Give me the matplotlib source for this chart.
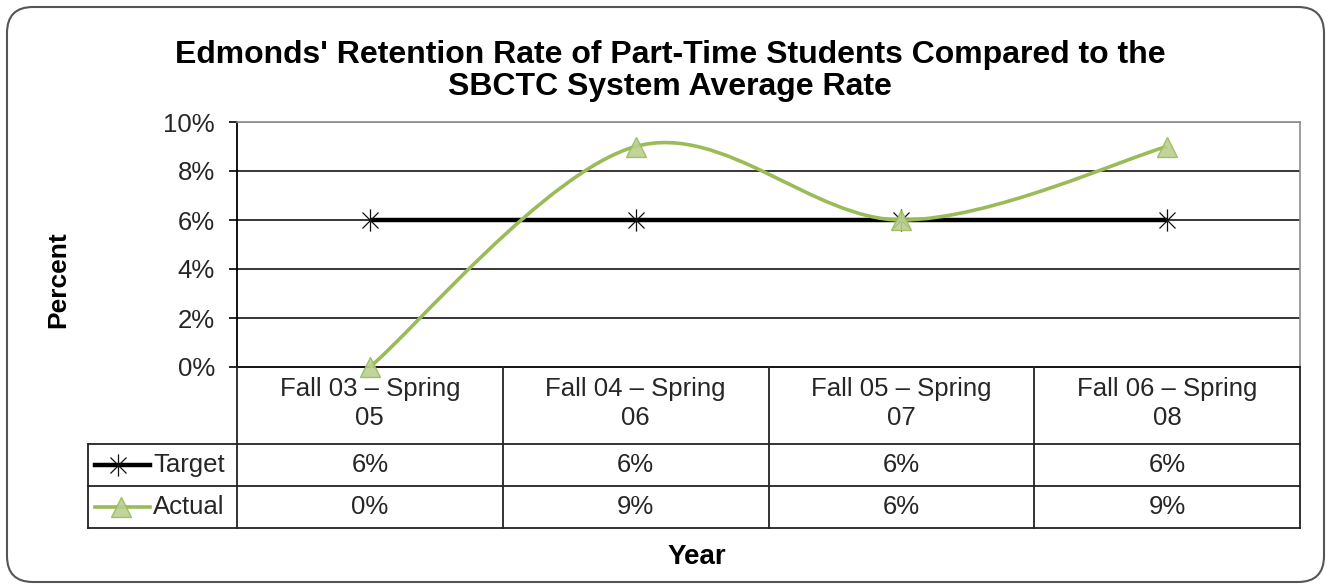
import matplotlib
matplotlib.use("Agg")
import matplotlib.pyplot as plt
from matplotlib.path import Path
from matplotlib.patches import PathPatch, FancyBboxPatch
from matplotlib.lines import Line2D
import matplotlib.transforms as mtransforms

plt.rcParams['font.family'] = ['Liberation Sans', 'DejaVu Sans']

# ---- data ----
categories = ["Fall 03 – Spring\n05", "Fall 04 – Spring\n06", "Fall 05 – Spring\n07", "Fall 06 – Spring\n08"]
target = [0.06, 0.06, 0.06, 0.06]
actual = [0.00, 0.09, 0.06, 0.09]
target_labels = ["6%", "6%", "6%", "6%"]
actual_labels = ["0%", "9%", "6%", "9%"]
yticks = [0.0, 0.02, 0.04, 0.06, 0.08, 0.10]
ytick_labels = ["0%", "2%", "4%", "6%", "8%", "10%"]
title = "Edmonds' Retention Rate of Part-Time Students Compared to the\nSBCTC System Average Rate"

W, H = 1327, 586
fig = plt.figure(figsize=(W / 100, H / 100), dpi=100)

def fy(py):
    return 1 - py / H

def fx(px):
    return px / W

# asterisk marker: vertical bar + X
AST = Path([(0, -1), (0, 1), (-0.72, -0.72), (0.72, 0.72), (-0.72, 0.72), (0.72, -0.72)],
           [Path.MOVETO, Path.LINETO, Path.MOVETO, Path.LINETO, Path.MOVETO, Path.LINETO])

FS = 18.5
TXT = '#262626'

# plot area in pixels
L, R, T, B = 237, 1300, 122, 367
ax = fig.add_axes([fx(L), fy(B), fx(R) - fx(L), fy(T) - fy(B)])
ax.set_xlim(-0.5, len(categories) - 0.5)
ax.set_ylim(0, 0.10)

GREEN = '#9bbb59'
TRI_FACE = '#b9d091'

# gridlines
for v in yticks[1:-1]:
    ax.axhline(v, color='black', lw=1.1, zorder=1)
ax.axhline(yticks[-1], color='#8c8c8c', lw=1.2, zorder=1)

for s in ['top', 'right']:
    ax.spines[s].set_color('#8c8c8c')
    ax.spines[s].set_linewidth(1.2)
ax.spines['left'].set_color('black')
ax.spines['left'].set_linewidth(1.3)
ax.spines['bottom'].set_color('black')
ax.spines['bottom'].set_linewidth(1.3)

ax.set_yticks(yticks)
ax.set_yticklabels(ytick_labels)
ax.tick_params(axis='y', direction='out', length=6, width=1.2, pad=10, labelsize=FS,
               labelcolor=TXT)
ax.set_xticks([])

xs = list(range(len(categories)))

# target line
ax.plot(xs, target, color='black', lw=3.2, zorder=3, solid_capstyle='butt')
ax.plot(xs, target, linestyle='none', marker=AST, markersize=16,
        markeredgecolor='#111111', markeredgewidth=0.9, zorder=4)

# smoothed actual line (Excel-style Bezier smoothing)
pts = list(zip(xs, actual))
n = len(pts)
verts = [pts[0]]
codes = [Path.MOVETO]
for i in range(n - 1):
    p0 = pts[i - 1] if i > 0 else pts[i]
    p1 = pts[i]
    p2 = pts[i + 1]
    p3 = pts[i + 2] if i + 2 < n else pts[i + 1]
    c1 = (p1[0] + (p2[0] - p0[0]) / 6, p1[1] + (p2[1] - p0[1]) / 6)
    c2 = (p2[0] - (p3[0] - p1[0]) / 6, p2[1] - (p3[1] - p1[1]) / 6)
    verts += [c1, c2, p2]
    codes += [Path.CURVE4] * 3
ax.add_patch(PathPatch(Path(verts, codes), facecolor='none', edgecolor=GREEN, lw=2.6, zorder=5,
                       clip_on=False))
ax.plot(xs, actual, linestyle='none', marker='^', markersize=15, markerfacecolor=TRI_FACE,
        markeredgecolor=GREEN, markeredgewidth=1.0, alpha=0.9, zorder=6, clip_on=False)

# ---- data table ----
blend = mtransforms.blended_transform_factory(ax.transData, fig.transFigure)
row_cat_bot, row_t_bot, row_a_bot = 444, 486, 528
left_col = 88
lc = '#222222'
for b in [x - 0.5 for x in range(len(categories) + 1)]:
    fig.add_artist(Line2D([b, b], [fy(B), fy(row_a_bot)], transform=blend, color=lc, lw=1.3))
for yy in [row_cat_bot, row_t_bot, row_a_bot]:
    fig.add_artist(Line2D([fx(left_col), fx(R)], [fy(yy), fy(yy)], color=lc, lw=1.3))
fig.add_artist(Line2D([fx(left_col), fx(left_col)], [fy(row_cat_bot), fy(row_a_bot)], color=lc, lw=1.3))

for i, c in enumerate(categories):
    fig.text(0, 0, c, transform=blend, fontsize=FS, color=TXT, ha='center', va='center',
             linespacing=1.25).set_position((i, fy((B + row_cat_bot) / 2 - 2)))
    fig.text(0, 0, target_labels[i], transform=blend, fontsize=FS, color=TXT,
             ha='center', va='center').set_position((i, fy((row_cat_bot + row_t_bot) / 2)))
    fig.text(0, 0, actual_labels[i], transform=blend, fontsize=FS, color=TXT,
             ha='center', va='center').set_position((i, fy((row_t_bot + row_a_bot) / 2)))

# legend keys in table
yt = fy((row_cat_bot + row_t_bot) / 2)
ya = fy((row_t_bot + row_a_bot) / 2)
fig.add_artist(Line2D([fx(95), fx(150)], [yt, yt], color='black', lw=3.2))
fig.add_artist(Line2D([fx(118)], [yt], linestyle='none', marker=AST, markersize=16,
                      markeredgecolor='#111111', markeredgewidth=0.9))
fig.add_artist(Line2D([fx(95), fx(150)], [ya, ya], color=GREEN, lw=2.6))
fig.add_artist(Line2D([fx(121)], [ya], linestyle='none', marker='^', markersize=15,
                      markerfacecolor=TRI_FACE, markeredgecolor=GREEN, markeredgewidth=1.0, alpha=0.9))
fig.text(fx(153), yt, "Target", fontsize=FS, color=TXT, ha='left', va='center')
fig.text(fx(153), ya, "Actual", fontsize=FS, color=TXT, ha='left', va='center')

# titles
fig.text(fx(670), fy(71), title, fontsize=23, fontweight='bold', ha='center', va='center',
         linespacing=1.1)
fig.text(fx(58), fy(280), "Percent", fontsize=19, fontweight='bold', rotation=90,
         ha='center', va='center')
fig.text(fx(697), fy(557), "Year", fontsize=20, fontweight='bold', ha='center', va='center')

# outer rounded border (pixel coordinates)
fig.add_artist(FancyBboxPatch((7, H - 582), 1317, 575,
                              boxstyle="round,pad=0,rounding_size=26",
                              transform=mtransforms.IdentityTransform(), facecolor='none',
                              edgecolor='#555555', lw=1.5))

fig.savefig("out.png", dpi=100)
